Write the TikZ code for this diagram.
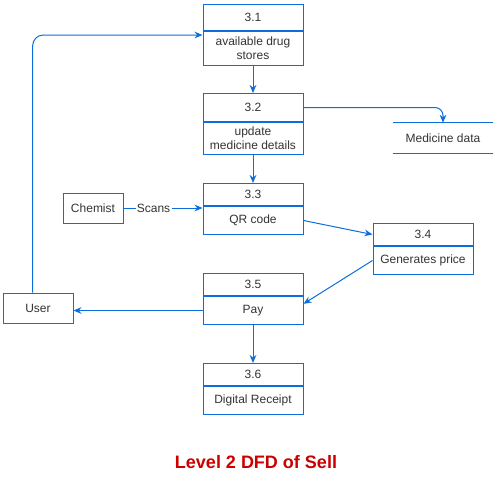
\documentclass[tikz,border=0pt]{standalone}
\usepackage{fontspec}
\setmainfont{Liberation Sans}
\usetikzlibrary{arrows.meta,positioning}
\definecolor{dfdblue}{RGB}{10,110,220}
\definecolor{dfdtext}{RGB}{51,51,51}
\definecolor{dfdred}{RGB}{204,0,0}

\begin{document}
\begin{tikzpicture}[x=0.75pt,y=-0.75pt,>={Stealth[length=6pt,width=5pt]}]

% --- Styles ---
\tikzset{
    box/.style={draw=dfdblue, line width=0.75pt, inner sep=0pt,
        text=dfdtext, font=\fontsize{9}{10.5}\selectfont, align=center},
    head/.style={box, minimum width=75pt, minimum height=#1, anchor=north},
    body/.style={box, minimum width=75pt, minimum height=#1},
    entity/.style={box, minimum height=22.5pt},
    store/.style={inner sep=0pt, minimum width=75pt, minimum height=22.5pt,
        text=dfdtext, font=\fontsize{9}{10.5}\selectfont},
    storeline/.style={draw=dfdblue, line width=0.75pt},
    flow/.style={->, draw=dfdblue, line width=0.75pt},
    flowlabel/.style={fill=white, inner sep=1pt, text=dfdtext,
        font=\fontsize{9}{10.5}\selectfont},
    title/.style={text=dfdred, font=\fontsize{13.5}{16}\selectfont\bfseries}
}

\useasboundingbox (0,0) rectangle (497,489);

% --- Processen ---
\node[head=19.5pt] (h31) at (253,4) {3.1};
\node[body=25.5pt, below=0pt of h31] (p31) {available drug\\stores};

\node[head=21pt] (h32) at (253,93) {3.2};
\node[body=24pt, below=0pt of h32] (p32) {update\\medicine details};

\node[head=16.5pt] (h33) at (253,183) {3.3};
\node[body=21pt, below=0pt of h33] (p33) {QR code};

\node[head=16.5pt] (h34) at (423,223) {3.4};
\node[body=21pt, below=0pt of h34] (p34) {Generates price};

\node[head=16.5pt] (h35) at (253,273) {3.5};
\node[body=21pt, below=0pt of h35] (p35) {Pay};

\node[head=16.5pt] (h36) at (253,363) {3.6};
\node[body=21pt, below=0pt of h36] (p36) {Digital Receipt};

% --- Externe entiteiten ---
\node[entity, minimum width=45pt] (chemist) at (93,208) {Chemist};
\node[entity, minimum width=52.5pt] (user) at (38,308) {User};

% --- Data store ---
\node[store] (md) at (443,138) {Medicine data};
\draw[storeline] (md.north west) -- (md.north east);
\draw[storeline] (md.south west) -- (md.south east);

% --- Stromen ---
\draw[flow, rounded corners=8pt] ([xshift=-4pt]user.north) |- ([yshift=-3pt]p31.north west);
\draw[flow] (p31) -- (h32);
\draw[flow, rounded corners=6pt] (h32.east) -| (md.north);
\draw[flow] (p32) -- (h33);
\draw[flow] (chemist.east) -- (chemist.east -| p33.west)
    node[flowlabel, pos=0.38] (scans) {Scans};
\draw[flow] (p33.east) -- (h34.west);
\draw[flow] (p34.west) -- ([yshift=5pt]p35.east);
\draw[flow] (p35.west) -- (p35.west -| user.east);
\draw[flow] (p35) -- (h36);

% --- Titel ---
\node[title] (ttl) at (256,462) {Level 2 DFD of Sell};

\end{tikzpicture}
\end{document}
